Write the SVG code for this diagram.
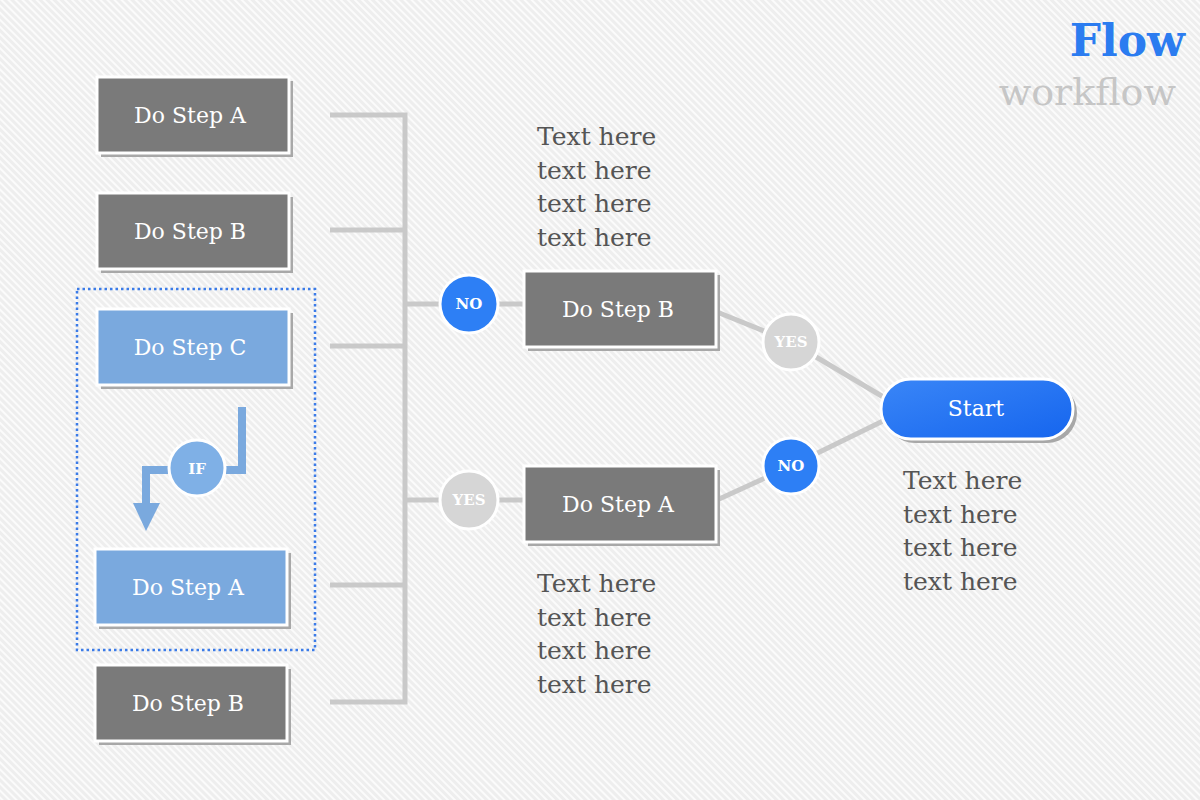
<svg xmlns="http://www.w3.org/2000/svg" width="1200" height="800" viewBox="0 0 1200 800">
<defs>
<pattern id="bg" width="5" height="5" patternUnits="userSpaceOnUse" patternTransform="rotate(-45)">
<rect width="5" height="5" fill="#eeeeee"/>
<rect width="2" height="5" fill="#fbfbfb"/>
</pattern>
<linearGradient id="startg" x1="0" y1="0" x2="1" y2="1">
<stop offset="0" stop-color="#3a86f7"/>
<stop offset="1" stop-color="#1565ee"/>
</linearGradient>
</defs>
<style>
.sh{fill:#a8a8a8}
.bx{stroke:#ffffff;stroke-width:3}
.gray{fill:#7a7a7a}
.blue{fill:#7aa9de}
.lbl{font-family:"DejaVu Serif","Liberation Serif",serif;font-size:22px;fill:#ffffff;text-anchor:middle}
.ln{stroke:#c9c9c9;stroke-width:5;fill:none}
.cl{font-family:"DejaVu Serif","Liberation Serif",serif;font-size:15px;font-weight:bold;fill:#ffffff;text-anchor:middle}
.txt{font-family:"DejaVu Serif","Liberation Serif",serif;font-size:25px;fill:#555555}
</style>
<rect width="1200" height="800" fill="url(#bg)"/>

<text x="1185" y="56" font-family="DejaVu Serif,Liberation Serif,serif" font-size="44" font-weight="bold" fill="#2b7cf0" text-anchor="end">Flow</text>
<text x="1176" y="105" font-family="DejaVu Serif,Liberation Serif,serif" font-size="38" fill="#c6c6c6" text-anchor="end">workflow</text>

<g id="connectors">
<path class="ln" d="M330 115 H405 V702 H330 M330 230 H405 M330 346 H405 M330 585 H405"/>
<path class="ln" d="M405 304 H525 M405 500 H525"/>
<path class="ln" d="M717 312 L791 342 L885 398"/>
<path class="ln" d="M717 500 L791 466 L885 420"/>
<path d="M242 407 V470 H220 M170 470 H146 V505" stroke="#7aa9de" stroke-width="8" fill="none"/>
<polygon points="133,503 160,503 146,531" fill="#7aa9de"/>
</g>

<rect id="group-box" x="77" y="289" width="238" height="361" fill="none" stroke="#3b7be8" stroke-width="2.5" stroke-dasharray="2.5 3"/>

<g id="n-left-a">
<rect class="sh" x="101" y="81" width="192" height="76"/>
<rect class="bx gray" x="97" y="77" width="192" height="76"/>
<text class="lbl" x="190" y="123">Do Step A</text>
</g>
<g id="n-left-b">
<rect class="sh" x="101" y="197" width="192" height="76"/>
<rect class="bx gray" x="97" y="193" width="192" height="76"/>
<text class="lbl" x="190" y="239">Do Step B</text>
</g>
<g id="n-left-c">
<rect class="sh" x="101" y="313" width="192" height="76"/>
<rect class="bx blue" x="97" y="309" width="192" height="76"/>
<text class="lbl" x="190" y="355">Do Step C</text>
</g>
<g id="n-left-a2">
<rect class="sh" x="99" y="553" width="192" height="76"/>
<rect class="bx blue" x="95" y="549" width="192" height="76"/>
<text class="lbl" x="188" y="595">Do Step A</text>
</g>
<g id="n-left-b2">
<rect class="sh" x="99" y="669" width="192" height="76"/>
<rect class="bx gray" x="95" y="665" width="192" height="76"/>
<text class="lbl" x="188" y="711">Do Step B</text>
</g>

<g id="n-if">
<circle cx="197" cy="468" r="28" fill="#7fb0e6" stroke="#ffffff" stroke-width="3"/>
<text class="cl" x="197" y="474" font-size="13">IF</text>
</g>

<g id="n-no1">
<circle cx="469" cy="304" r="29" fill="#2d7ff5" stroke="#ffffff" stroke-width="3"/>
<text class="cl" x="469" y="309">NO</text>
</g>
<g id="n-yes1">
<circle cx="469" cy="500" r="29" fill="#d6d6d6" stroke="#ffffff" stroke-width="3"/>
<text class="cl" x="469" y="505">YES</text>
</g>

<g id="n-mid-b">
<rect class="sh" x="528" y="275" width="192" height="76"/>
<rect class="bx gray" x="524" y="271" width="192" height="76"/>
<text class="lbl" x="618" y="317">Do Step B</text>
</g>
<g id="n-mid-a">
<rect class="sh" x="528" y="470" width="192" height="76"/>
<rect class="bx gray" x="524" y="466" width="192" height="76"/>
<text class="lbl" x="618" y="512">Do Step A</text>
</g>

<g id="n-yes2">
<circle cx="791" cy="342" r="28" fill="#d6d6d6" stroke="#ffffff" stroke-width="3"/>
<text class="cl" x="791" y="347">YES</text>
</g>
<g id="n-no2">
<circle cx="791" cy="466" r="28" fill="#2d7ff5" stroke="#ffffff" stroke-width="3"/>
<text class="cl" x="791" y="471">NO</text>
</g>

<g id="n-start">
<rect x="885" y="383" width="192" height="60" rx="30" fill="#a8a8a8"/>
<rect x="881" y="379" width="192" height="60" rx="30" fill="url(#startg)" stroke="#ffffff" stroke-width="3"/>
<text class="lbl" x="976" y="416" font-size="20">Start</text>
</g>

<g id="texts">
<text class="txt" x="537" y="145">Text here</text>
<text class="txt" x="537" y="179">text here</text>
<text class="txt" x="537" y="212">text here</text>
<text class="txt" x="537" y="246">text here</text>
<text class="txt" x="537" y="592">Text here</text>
<text class="txt" x="537" y="626">text here</text>
<text class="txt" x="537" y="659">text here</text>
<text class="txt" x="537" y="693">text here</text>
<text class="txt" x="903" y="489">Text here</text>
<text class="txt" x="903" y="523">text here</text>
<text class="txt" x="903" y="556">text here</text>
<text class="txt" x="903" y="590">text here</text>
</g>
</svg>
